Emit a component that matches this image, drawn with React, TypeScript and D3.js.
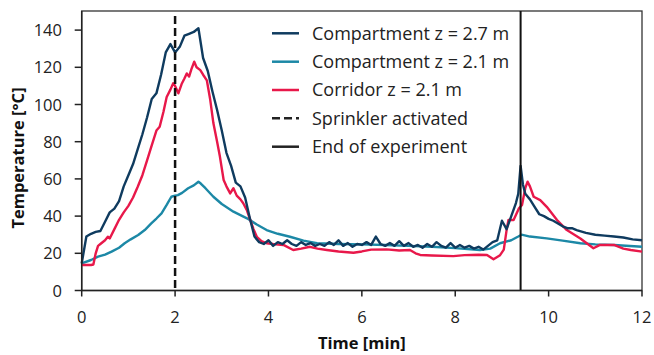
import React from "react";
import * as d3 from "d3";

const xTicks = [0, 2, 4, 6, 8, 10, 12];
const yTicks = [0, 20, 40, 60, 80, 100, 120, 140];
const legendLabels = ["Compartment z = 2.7 m", "Compartment z = 2.1 m", "Corridor z = 2.1 m", "Sprinkler activated", "End of experiment"];
const sprinklerTime = 2.0;
const endTime = 9.4;

const navyT = [0,0.1,0.2,0.3,0.4,0.5,0.6,0.7,0.8,0.9,1.0,1.1,1.2,1.3,1.4,1.5,1.6,1.7,1.8,1.9,2.0,2.1,2.2,2.3,2.4,2.5,2.6,2.7,2.8,2.9,3.0,3.1,3.2,3.3,3.4,3.5,3.6,3.7,3.8,3.9,4.0,4.1,4.2,4.3,4.4,4.5,4.6,4.7,4.8,4.9,5.0,5.1,5.2,5.3,5.4,5.5,5.6,5.7,5.8,5.9,6.0,6.1,6.2,6.3,6.4,6.5,6.6,6.7,6.8,6.9,7.0,7.1,7.2,7.3,7.4,7.5,7.6,7.7,7.8,7.9,8.0,8.1,8.2,8.3,8.4,8.5,8.6,8.7,8.8,8.9,9.0,9.1,9.2,9.3,9.35,9.4,9.45,9.5,9.6,9.7,9.8,9.9,10.0,10.1,10.2,10.3,10.4,10.5,10.6,10.8,11.0,11.2,11.4,11.6,11.8,12.0];
const navyV = [14.6,29,30.5,31.5,32,37,42,44,48,56,62,68,76,84,93,103,106,116,128,132.5,128,131,137,138,139,141,125,118,107,97,86,74,67,58,56,50,39,29,26,25,27,24,26,25,27,25,24,26,24.5,25.5,24,25,24,26,24.5,27,24,25.5,23.5,25,24.5,26,24.5,29,25,24,25.5,24,26.5,24,25.5,23.5,24.5,23,25,23.5,26,24,23,25.5,23,24.5,23,24,22.5,23.5,22,24,26,27,37.5,33,40,47,52,67,57,52,49,45,41,40,38.5,37.5,36,34.5,33.5,33.5,32.5,31,30,29.5,29,28.5,27.5,27];

const tealT = [0,0.2,0.35,0.5,0.64,0.8,0.92,1.05,1.21,1.35,1.49,1.6,1.71,1.82,1.92,2.0,2.06,2.15,2.28,2.4,2.5,2.55,2.65,2.82,3.0,3.25,3.54,3.75,3.96,4.2,4.46,4.75,5.04,5.5,6.0,6.5,7.0,7.5,8.0,8.53,8.75,8.96,9.2,9.35,9.42,9.6,9.96,10.3,10.68,11.0,11.4,12.0];
const tealV = [14.6,16.4,18.2,19.3,20.9,23,25.4,27.5,29.8,32.5,36.1,38.7,41.5,46,50.4,51,51.3,52.5,55,56.5,58.5,57.5,55,50.4,46.5,42.4,38.8,35.5,32.5,30.5,28.9,26.8,25.4,25,24.8,24.5,24,23.5,22.8,21.8,22.5,25.4,27,29,30,29,28,26.8,25.4,24.8,24.5,23.5];

const redT = [0,0.1,0.2,0.25,0.3,0.35,0.4,0.5,0.56,0.6,0.7,0.8,0.9,1.0,1.1,1.2,1.3,1.4,1.5,1.6,1.67,1.75,1.82,1.9,1.96,2.0,2.07,2.14,2.2,2.25,2.3,2.35,2.41,2.46,2.54,2.6,2.68,2.75,2.82,2.9,2.96,3.04,3.1,3.18,3.25,3.32,3.4,3.46,3.54,3.61,3.68,3.75,3.85,3.96,4.1,4.32,4.53,4.7,4.89,5.05,5.25,5.5,5.82,6.0,6.2,6.53,6.8,7.03,7.15,7.25,7.5,7.96,8.2,8.5,8.68,8.82,8.96,9.04,9.1,9.14,9.25,9.36,9.43,9.5,9.55,9.6,9.68,9.82,9.96,10.18,10.39,10.68,10.96,11.1,11.4,11.6,11.76,12.0];
const redV = [13.7,13.7,13.7,14,20,24,25,27,28.9,28,33,38,42,45.5,50,55.8,62,70,78,86,88,96,104,108,111.4,110,106,111,114,116.7,115,119,123,120,118.5,116,113,103,90,80,72,59.4,56,52.2,55,51,49,46.9,43,37.9,33,28.9,26.5,25.4,25,24.5,21.8,22.5,23.5,22.5,21.8,21,20.3,21,22,22.1,21.5,21.8,20,19.1,18.8,18.5,19,19.2,19.1,16.8,19,22,32.5,37.9,37.9,44,46,55,58.5,56,50.4,48.6,45,37.9,32.5,28,22.7,24.5,24.5,22.5,21.8,20.9];

const NAVY = "#0f3b5f";
const TEAL = "#1c88a6";
const RED = "#e8184a";
const FONT = "'Open Sans', sans-serif";

export default function App() {
  const W = 654, H = 355;
  const x0 = 81.7, x1 = 642, yTop = 11, y0 = 290.5;
  const x = d3.scaleLinear().domain([0, 12]).range([x0, x1]);
  const y = d3.scaleLinear().domain([0, 150]).range([y0, y0 - 150 * 1.86]);

  const mk = (ts: number[], vs: number[]) =>
    d3.line<number>().x((_, i) => x(ts[i])).y((v) => y(v))(vs) || "";

  const series = [
    { t: tealT, v: tealV, c: TEAL },
    { t: redT, v: redV, c: RED },
    { t: navyT, v: navyV, c: NAVY },
  ];

  const legendY = [33.3, 61.7, 90, 118.3, 146.7];
  const legendStyle = [
    { c: NAVY, dash: "" },
    { c: TEAL, dash: "" },
    { c: RED, dash: "" },
    { c: "#222", dash: "8 4" },
    { c: "#222", dash: "" },
  ];

  return (
    <svg width={W} height={H} style={{ position: "absolute", left: 0, top: 0, background: "#fff" }} fontFamily={FONT}>
      <rect x={x0} y={yTop} width={x1 - x0} height={y0 - yTop} fill="none" stroke="#333" strokeWidth={1.3} />
      {series.map((s, i) => (
        <path key={i} d={mk(s.t, s.v)} fill="none" stroke={s.c} strokeWidth={2.4} strokeLinejoin="round" />
      ))}
      <line x1={x(sprinklerTime)} x2={x(sprinklerTime)} y1={16} y2={y0} stroke="#111" strokeWidth={2.5} strokeDasharray="8 4" />
      <line x1={x(endTime)} x2={x(endTime)} y1={yTop} y2={y0} stroke="#111" strokeWidth={2} />
      <line x1={x0} x2={x0} y1={yTop} y2={y0} stroke="#222" strokeWidth={1.5} />
      <line x1={x0} x2={x1} y1={y0} y2={y0} stroke="#222" strokeWidth={1.5} />
      {xTicks.map((t) => (
        <g key={t}>
          <line x1={x(t)} x2={x(t)} y1={y0} y2={y0 + 6} stroke="#222" strokeWidth={1.5} />
          <text x={x(t)} y={323} textAnchor="middle" fontSize={16.5} fill="#222">{t}</text>
        </g>
      ))}
      {yTicks.map((t) => (
        <g key={t}>
          <line x1={x0 - 7} x2={x0} y1={y(t)} y2={y(t)} stroke="#222" strokeWidth={1.5} />
          <text x={62} y={y(t) + 6} textAnchor="end" fontSize={16.5} fill="#222">{t}</text>
        </g>
      ))}
      <text x={(x0 + x1) / 2} y={349} textAnchor="middle" fontSize={16.5} fontWeight="bold" fill="#111">Time [min]</text>
      <text transform={`translate(24,158) rotate(-90)`} textAnchor="middle" fontSize={16.5} fontWeight="bold" fill="#111">Temperature [°C]</text>
      {legendLabels.map((lab, i) => (
        <g key={lab}>
          <line x1={272} x2={299} y1={legendY[i]} y2={legendY[i]} stroke={legendStyle[i].c} strokeWidth={2.5} strokeDasharray={legendStyle[i].dash} />
          <text x={312} y={legendY[i] + 6.3} fontSize={18} fill="#222">{lab}</text>
        </g>
      ))}
    </svg>
  );
}
